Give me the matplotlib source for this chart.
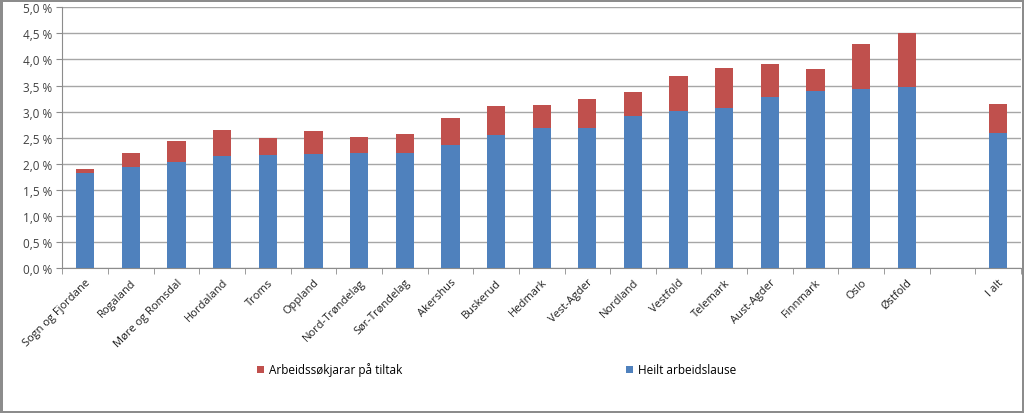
import numpy as np
import matplotlib.pyplot as plt
from matplotlib.ticker import FuncFormatter

# Data (percent)
fylke = ["Sogn og Fjordane", "Rogaland", "Møre og Romsdal", "Hordaland", "Troms",
         "Oppland", "Nord-Trøndelag", "Sør-Trøndelag", "Akershus", "Buskerud",
         "Hedmark", "Vest-Agder", "Nordland", "Vestfold", "Telemark",
         "Aust-Agder", "Finnmark", "Oslo", "Østfold", "", "I alt"]
heilt = [1.82, 1.93, 2.03, 2.14, 2.16, 2.19, 2.21, 2.21, 2.36, 2.56,
         2.68, 2.68, 2.91, 3.01, 3.07, 3.28, 3.39, 3.44, 3.47, np.nan, 2.59]
totalt = [1.90, 2.20, 2.44, 2.64, 2.49, 2.63, 2.51, 2.57, 2.88, 3.11,
          3.13, 3.25, 3.38, 3.68, 3.83, 3.92, 3.82, 4.29, 4.51, np.nan, 3.14]

heilt = np.array(heilt)
tiltak = np.array(totalt) - heilt

BLUE = "#4F81BD"
RED = "#C0504D"

plt.rcParams['font.family'] = ['Open Sans', 'DejaVu Sans']

fig = plt.figure(figsize=(10.24, 4.14), dpi=100)
fig.patch.set_edgecolor("#8c8c8c")
fig.patch.set_linewidth(2.5)
ax = fig.add_axes([0.061, 0.35, 0.936, 0.63])

x = np.arange(len(fylke))
b1 = ax.bar(x, heilt, width=0.4, color=BLUE, zorder=3, label="Heilt arbeidslause")
b2 = ax.bar(x, tiltak, width=0.4, bottom=heilt, color=RED, zorder=3,
            label="Arbeidssøkjarar på tiltak")

ax.set_xlim(-0.5, len(fylke) - 0.5)
ax.set_ylim(0, 5.0)
ax.set_yticks(np.arange(0, 5.01, 0.5))
ax.yaxis.set_major_formatter(FuncFormatter(lambda v, p: ("%.1f %%" % v).replace(".", ",")))
ax.yaxis.grid(True, color="#a6a6a6", linewidth=1, zorder=0)

ax.set_xticks(x)
ax.set_xticklabels(fylke, rotation=45, ha="right", rotation_mode="anchor", fontsize=8)
ax.set_xticks(np.arange(-0.5, len(fylke), 1), minor=True)
ax.tick_params(axis="x", which="major", length=0, pad=6)
ax.tick_params(axis="x", which="minor", length=4, color="#8c8c8c")
ax.tick_params(axis="y", length=4, color="#8c8c8c", labelsize=8.5, labelcolor="#404040")
ax.tick_params(axis="x", labelcolor="#202020")

for s in ["top", "right"]:
    ax.spines[s].set_visible(False)
for s in ["left", "bottom"]:
    ax.spines[s].set_color("#8c8c8c")

fig.legend([b2, b1], ["Arbeidssøkjarar på tiltak", "Heilt arbeidslause"],
           loc="center", bbox_to_anchor=(0.485, 0.105), ncol=2, frameon=False,
           fontsize=8.5, handlelength=0.6, handleheight=0.6, handletextpad=0.4,
           columnspacing=19)

fig.savefig("out.png", dpi=100, edgecolor=fig.get_edgecolor())
